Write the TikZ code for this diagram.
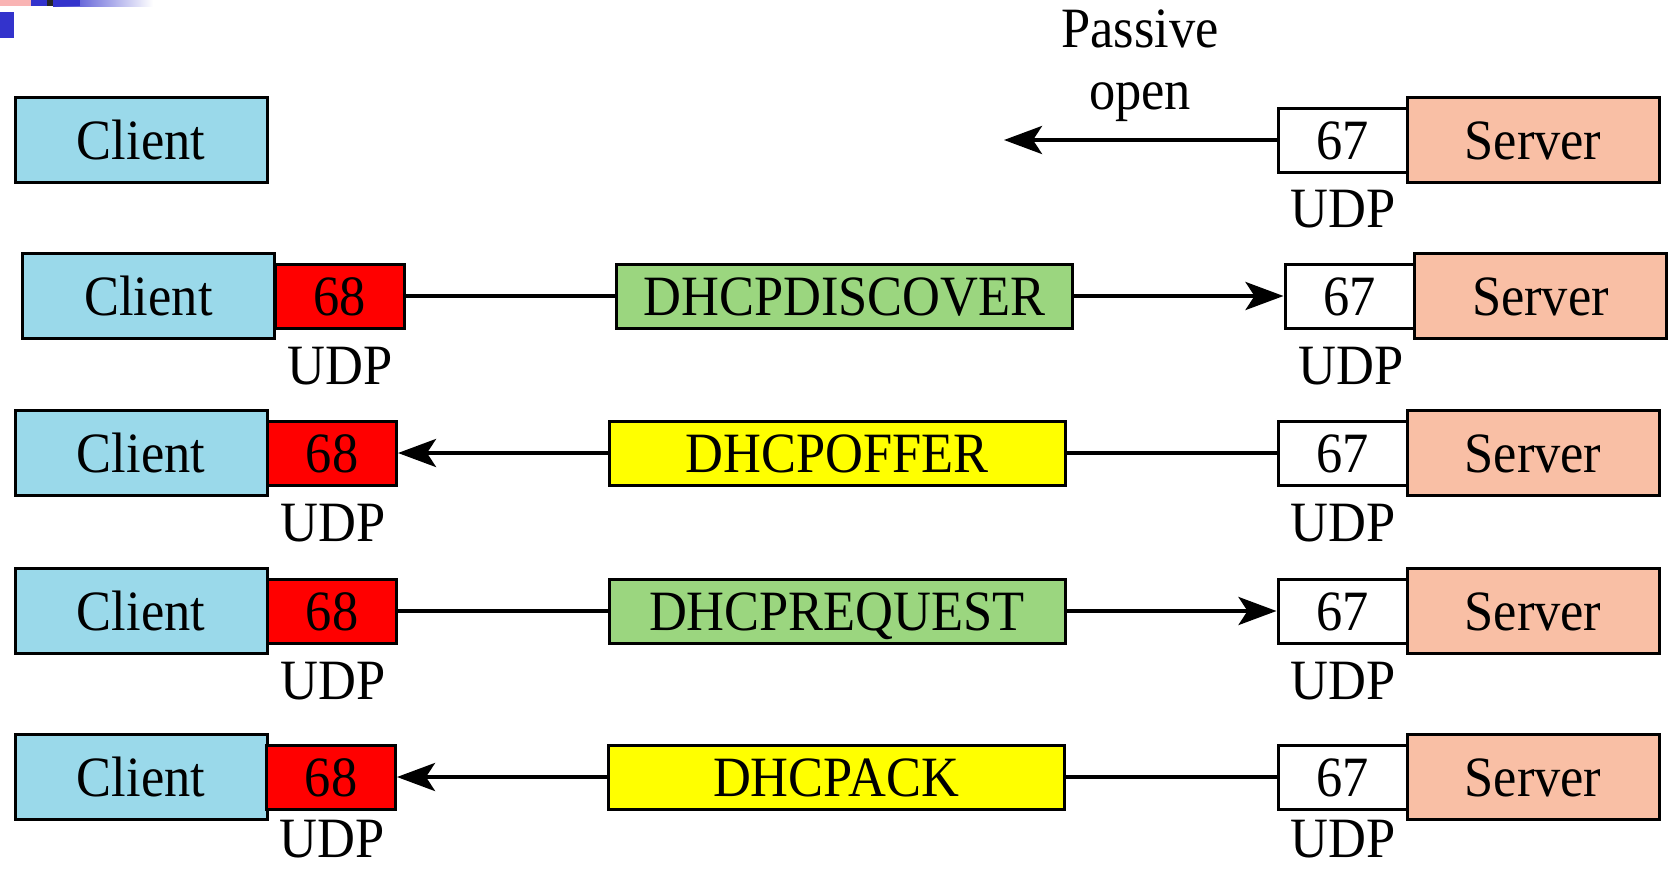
\documentclass[tikz,border=0pt]{standalone}
\usepackage{fontspec}
\setmainfont{Liberation Serif}[FakeStretch=0.92]
\usetikzlibrary{arrows.meta}
\definecolor{clientblue}{HTML}{9AD9EA}
\definecolor{serversalmon}{HTML}{F9BFA5}
\definecolor{msggreen}{HTML}{9BD67F}
\definecolor{msgyellow}{HTML}{FFFF00}
\definecolor{portred}{HTML}{FF0000}
\definecolor{slideblue}{HTML}{3333CC}
\definecolor{slidepink}{HTML}{F9B4B4}
\tikzset{
  box/.style={draw=black, line width=3pt, inner sep=0pt, text height=38pt, text depth=0pt,
    font=\fontsize{57}{62}\selectfont},
  client/.style={box, fill=clientblue, minimum width=252pt, minimum height=85pt},
  server/.style={box, fill=serversalmon, minimum width=252pt, minimum height=85pt},
  port/.style={box, minimum width=129pt, minimum height=64pt},
  cport/.style={port, fill=portred},
  sport/.style={port, fill=white},
  msgbox/.style={box, minimum width=456pt, minimum height=64pt},
  greenmsg/.style={msgbox, fill=msggreen},
  yellowmsg/.style={msgbox, fill=msgyellow},
  udp/.style={anchor=base, inner sep=0pt, text depth=0pt, font=\fontsize{57}{62}\selectfont},
  conn/.style={line width=4pt},
  arr/.style={conn, -{Stealth[length=38pt, width=28pt, inset=9pt]}},
}
\begin{document}
\begin{tikzpicture}[x=1pt, y=-1pt]
\useasboundingbox (0,0) rectangle (1671,868);
\fill[white] (0,0) rectangle (1671,868);
% slide corner artefact
\shade[left color=slideblue, right color=white] (53,0) rectangle (153,6);
\fill[slidepink] (0,0) rectangle (31,6);
\fill[slideblue] (31,0) rectangle (47,6);
\fill[black!85] (47,0) rectangle (53,6);
\fill[slideblue] (53,0) rectangle (80,6);
\fill[slideblue] (0,12) rectangle (14,38);

% Row 1: passive open
\node[client] (c1) at (141,140) {Client};
\node[sport] (s1) at (1342.5,140) {67};
\node[server] (v1) at (1533,140) {Server};
\node[udp] (u1s) at (1343,227) {UDP};
\node[align=center, inner sep=0pt, font=\fontsize{57}{62}\selectfont] (po) at (1140,66) {Passive\\open};
\coordinate (e1) at (1004,140);
\draw[arr] (s1.west) -- (e1);

% Row 2: DHCPDISCOVER
\node[client] (c2) at (148.5,296) {Client};
\node[cport] (p2) at (339.5,296) {68};
\node[udp] (u2c) at (340,384) {UDP};
\node[greenmsg] (m2) at (844.5,296) {DHCPDISCOVER};
\node[sport] (s2) at (1349.5,296) {67};
\node[server] (v2) at (1540.5,296) {Server};
\node[udp] (u2s) at (1351,384) {UDP};
\draw[conn] (p2.east) -- (m2.west);
\draw[arr] (m2.east) -- (s2.west);

% Row 3: DHCPOFFER
\node[client] (c3) at (141,453) {Client};
\node[cport] (p3) at (332,453) {68};
\node[udp] (u3c) at (333,541) {UDP};
\node[yellowmsg] (m3) at (837,453) {DHCPOFFER};
\node[sport] (s3) at (1342.5,453) {67};
\node[server] (v3) at (1533,453) {Server};
\node[udp] (u3s) at (1343,541) {UDP};
\draw[conn] (s3.west) -- (m3.east);
\draw[arr] (m3.west) -- (p3.east);

% Row 4: DHCPREQUEST
\node[client] (c4) at (141,611) {Client};
\node[cport] (p4) at (332,611) {68};
\node[udp] (u4c) at (333,699) {UDP};
\node[greenmsg] (m4) at (837,611) {DHCPREQUEST};
\node[sport] (s4) at (1342.5,611) {67};
\node[server] (v4) at (1533,611) {Server};
\node[udp] (u4s) at (1343,699) {UDP};
\draw[conn] (p4.east) -- (m4.west);
\draw[arr] (m4.east) -- (s4.west);

% Row 5: DHCPACK
\node[client] (c5) at (141,777) {Client};
\node[cport] (p5) at (331,777) {68};
\node[udp] (u5c) at (332,857) {UDP};
\node[yellowmsg] (m5) at (836,777) {DHCPACK};
\node[sport] (s5) at (1342.5,777) {67};
\node[server] (v5) at (1533,777) {Server};
\node[udp] (u5s) at (1343,857) {UDP};
\draw[conn] (s5.west) -- (m5.east);
\draw[arr] (m5.west) -- (p5.east);
\end{tikzpicture}
\end{document}
